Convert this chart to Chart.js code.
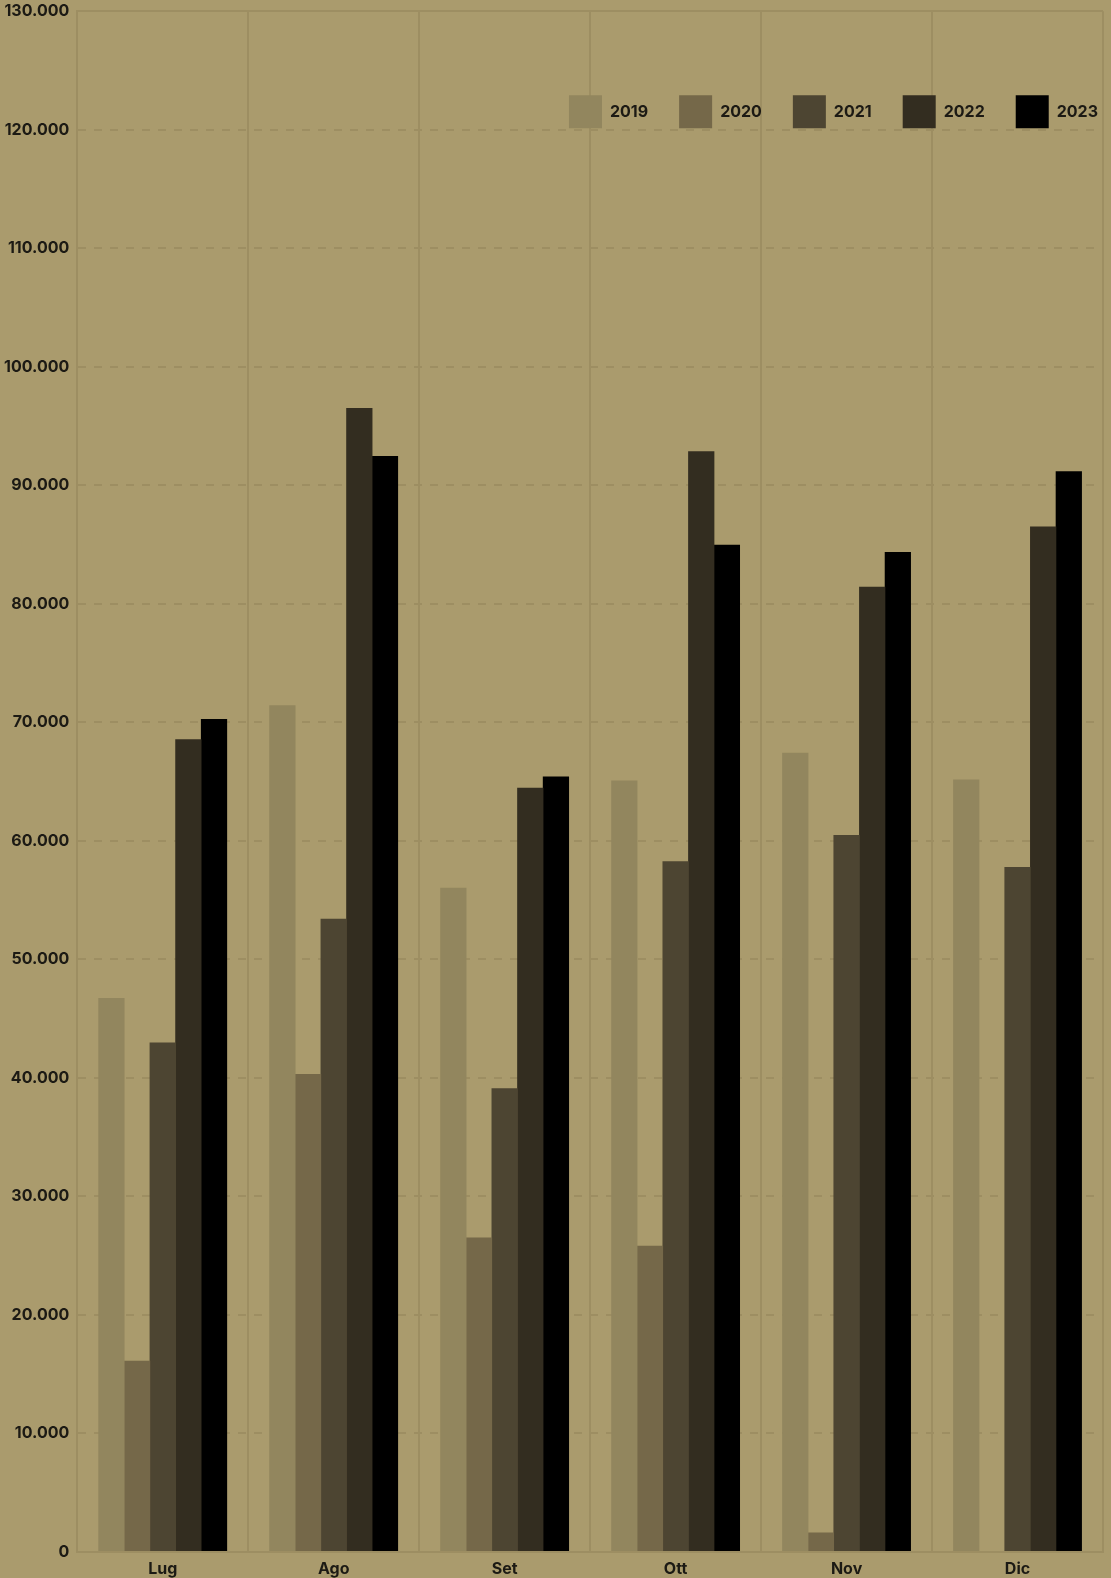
<!DOCTYPE html>
<html>
<head>
<meta charset="utf-8">
<script src="https://cdn.jsdelivr.net/npm/chart.js@4/dist/chart.umd.min.js"></script>
<style>
  html, body { margin: 0; padding: 0; background: #aa9b6d; }
  #wrap { width: 1111px; height: 1578px; }
</style>
</head>
<body>
<div id="wrap"><canvas id="cMonth"></canvas></div>
<script>
const months = ['Lug', 'Ago', 'Set', 'Ott', 'Nov', 'Dic']
const years = ['2019', '2020', '2021', '2022', '2023']

const v2019 = [46700, 71400, 56000, 65050, 67400, 65150]
const v2020 = [16100, 40300, 26500, 25800, 1600, null]
const v2021 = [42950, 53400, 39100, 58250, 60450, 57750]
const v2022 = [68550, 96500, 64450, 92850, 81400, 86500]
const v2023 = [70250, 92450, 65400, 84950, 84350, 91150]

const yTicks = [0, 10000, 20000, 30000, 40000, 50000, 60000, 70000, 80000, 90000, 100000, 110000, 120000, 130000]

const colors = ['#92865e', '#756849', '#4d4532', '#332d20', '#000000']
const gridColor = '#9d8e62'
const txtColor = '#1c1a14'

// 130000 -> "130.000"
const fmt = v => String(v).replace(/\B(?=(\d{3})+(?!\d))/g, '.')

Chart.defaults.font.family = 'Inter, "Liberation Sans", sans-serif'
Chart.defaults.font.weight = 'bold'
Chart.defaults.font.size = 16
Chart.defaults.color = txtColor

// legend sits inside the plot, top right (takes no layout space)
const legendShift = {
  id: 'legendShift',
  afterLayout(chart) {
    const lg = chart.legend
    lg.top = chart.chartArea.top + 53
    lg.bottom = lg.top + 90
    lg.height = 90
    lg.right = lg.right + 26
    lg.width = lg.right - lg.left
  }
}

const cMonth = new Chart(document.querySelector('#cMonth'), {
  type: 'bar',
  plugins: [legendShift],
  data: {
    labels: months,
    datasets: [v2019, v2020, v2021, v2022, v2023].map((d, i) => ({
      label: years[i],
      data: d,
      backgroundColor: colors[i],
      borderWidth: 0,
      inflateAmount: 0.3,
      categoryPercentage: 0.75,
      barPercentage: 1
    }))
  },
  options: {
    responsive: true,
    maintainAspectRatio: false,
    animation: false,
    layout: { padding: { left: -4, right: 8, top: -7, bottom: -9 } },
    plugins: {
      tooltip: { enabled: false },
      legend: {
        position: 'top',
        align: 'end',
        maxHeight: 1,
        labels: { boxWidth: 33, boxHeight: 33, padding: 31, color: txtColor }
      }
    },
    scales: {
      x: {
        grid: { color: gridColor, lineWidth: 2, drawTicks: false },
        border: { color: gridColor, width: 2 },
        ticks: { padding: 8 }
      },
      y: {
        min: 0,
        max: 130000,
        afterBuildTicks: axis => { axis.ticks = yTicks.map(v => ({ value: v })) },
        grid: { color: gridColor, lineWidth: 2, drawTicks: false },
        border: {
          color: gridColor,
          width: 2,
          dash: ctx => (ctx.tick && ctx.tick.value === 130000) ? [] : [8, 8]
        },
        ticks: { padding: 8, font: { lineHeight: 0.4 }, callback: v => fmt(v) }
      }
    }
  }
})
</script>
</body>
</html>
